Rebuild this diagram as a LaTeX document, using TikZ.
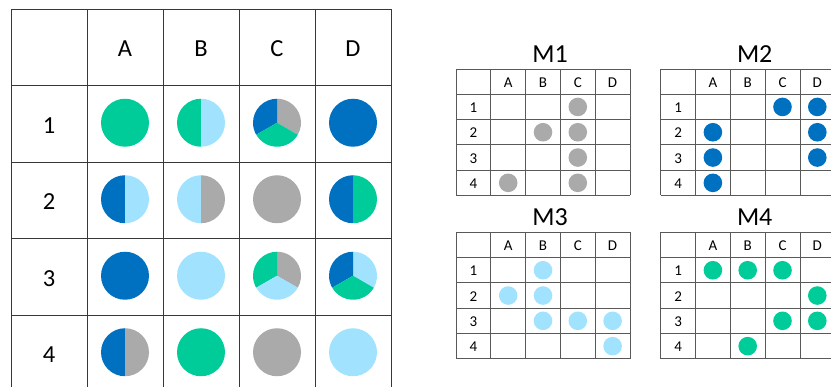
\documentclass[tikz,border=0pt]{standalone}
\usepackage{fontspec}
\setmainfont{Carlito}
\usepackage{tikz}
\usetikzlibrary{positioning}
\definecolor{pieGreen}{HTML}{00CC99}
\definecolor{pieBlue}{HTML}{0070C0}
\definecolor{pieSky}{HTML}{A1E3FF}
\definecolor{pieGray}{HTML}{AAAAAA}
% slice of a pie: colour, centre, start angle, end angle
\newcommand{\pieslice}[4]{\fill[#1] (#2) -- ++(#3:24) arc[start angle=#3,end angle=#4,radius=24] -- cycle;}
% small matrix: name, x, y, title, colour, cells
\newcommand{\minimat}[6]{%
  \begin{scope}[shift={(#2,#3)}]
  \foreach \i in {0,...,5} \draw[thin] (34.8*\i,0) -- (34.8*\i,-126.5);
  \foreach \j in {0,...,5} \draw[thin] (0,-25.3*\j) -- (174,-25.3*\j);
  \node[title] (#1) at (94,15) {#4};
  \foreach \c [count=\i] in {A,B,C,D} {
    \node[small] (#1-\c) at (34.8*\i+17.4,-13.3) {\c};
    \node[small] (#1-\i) at (17.4,-25.3*\i-13.3) {\i};
  }
  \foreach \i/\j in {#6} \fill[#5] (34.8*\i+17.4,-25.3*\j-12.65) circle[radius=9.3];
  \end{scope}}

\begin{document}
\begin{tikzpicture}[x=1pt,y=1pt,
  rule/.style={draw=black!78, line width=0.9pt},
  thin/.style={draw=black!65, line width=0.8pt},
  big/.style={font=\fontsize{24.5}{28}\selectfont},
  title/.style={font=\fontsize{26}{28}\selectfont},
  small/.style={font=\fontsize{15}{16}\selectfont}]
\useasboundingbox (0,0) rectangle (831,387);
% main table
\foreach \i in {0,...,5} \draw[rule] (11+76*\i,378) -- (11+76*\i,-5);
\foreach \j in {0,...,5} \draw[rule] (11,378-76.5*\j) -- (391,378-76.5*\j);
\foreach \c [count=\i] in {A,B,C,D} {
  \node[big] (h\c) at (49+76*\i,338) {\c};
  \node[big] (r\i) at (49,338-76.5*\i) {\i};
  \foreach \j in {1,...,4} \coordinate (p\c\j) at (49+76*\i,340.75-76.5*\j);
}
% row 1
\fill[pieGreen] (pA1) circle[radius=24];
\pieslice{pieGreen}{pB1}{90}{270} \pieslice{pieSky}{pB1}{-90}{90}
\pieslice{pieGray}{pC1}{-30}{90} \pieslice{pieBlue}{pC1}{90}{210} \pieslice{pieGreen}{pC1}{210}{330}
\fill[pieBlue] (pD1) circle[radius=24];
% row 2
\pieslice{pieBlue}{pA2}{90}{270} \pieslice{pieSky}{pA2}{-90}{90}
\pieslice{pieSky}{pB2}{90}{270} \pieslice{pieGray}{pB2}{-90}{90}
\fill[pieGray] (pC2) circle[radius=24];
\pieslice{pieBlue}{pD2}{90}{270} \pieslice{pieGreen}{pD2}{-90}{90}
% row 3
\fill[pieBlue] (pA3) circle[radius=24];
\fill[pieSky] (pB3) circle[radius=24];
\pieslice{pieGray}{pC3}{-30}{90} \pieslice{pieGreen}{pC3}{90}{210} \pieslice{pieSky}{pC3}{210}{330}
\pieslice{pieSky}{pD3}{-30}{90} \pieslice{pieBlue}{pD3}{90}{210} \pieslice{pieGreen}{pD3}{210}{330}
% row 4
\pieslice{pieBlue}{pA4}{90}{270} \pieslice{pieGray}{pA4}{-90}{90}
\fill[pieGreen] (pB4) circle[radius=24];
\fill[pieGray] (pC4) circle[radius=24];
\fill[pieSky] (pD4) circle[radius=24];
% small matrices
\minimat{M1}{456}{318}{M1}{pieGray}{3/1,2/2,3/2,3/3,1/4,3/4}
\minimat{M2}{660.7}{318}{M2}{pieBlue}{3/1,4/1,1/2,4/2,1/3,4/3,1/4}
\minimat{M3}{456}{154.7}{M3}{pieSky}{2/1,1/2,2/2,2/3,3/3,4/3,4/4}
\minimat{M4}{660.7}{154.7}{M4}{pieGreen}{1/1,2/1,3/1,4/2,3/3,4/3,2/4}
\end{tikzpicture}
\end{document}
